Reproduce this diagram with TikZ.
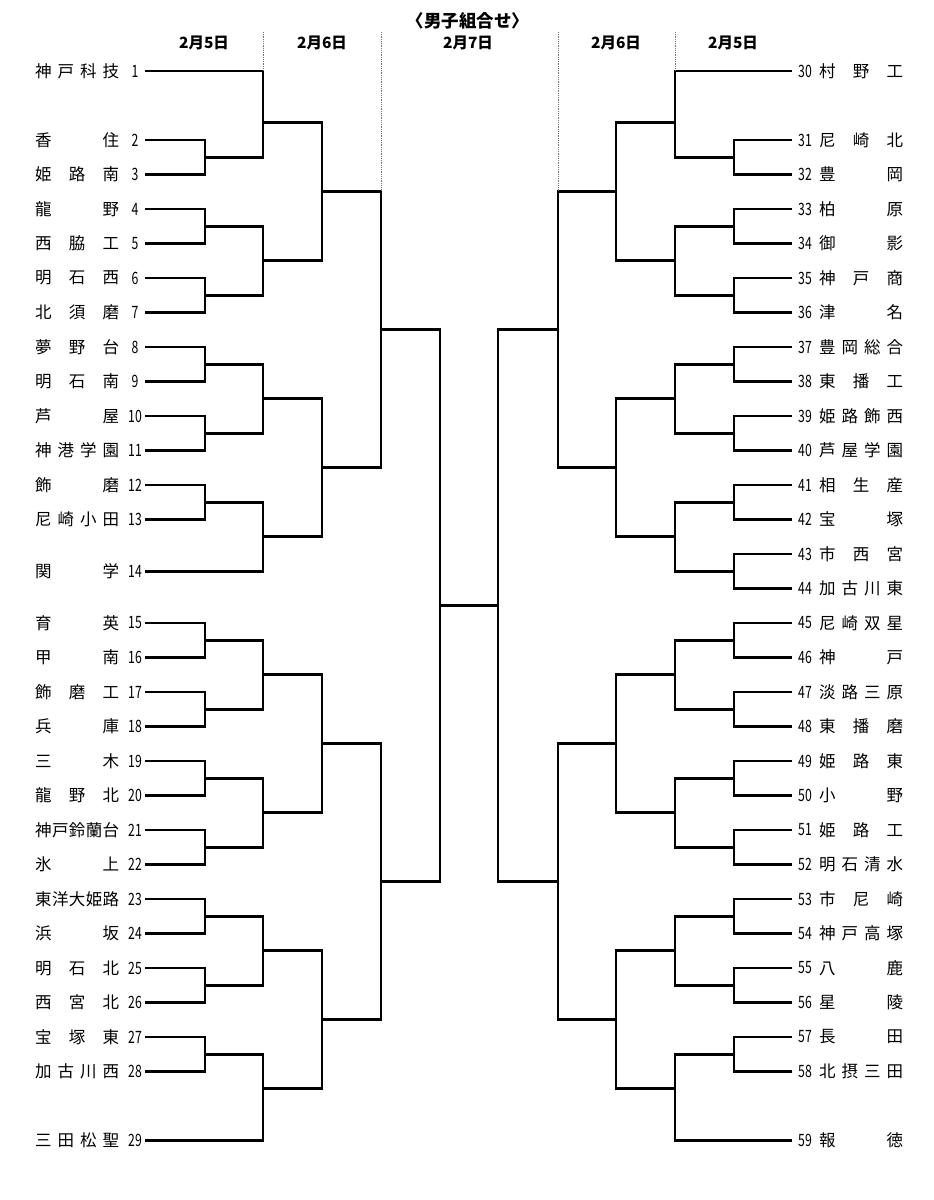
\documentclass[tikz,border=0pt]{standalone}
\usepackage{fontspec}
\setmainfont{Noto Sans CJK JP}
\newfontfamily\numf[FakeStretch=0.72]{Noto Sans CJK JP}
\usetikzlibrary{calc}
\def\jn#1{\makebox[84pt][s]{\jnA#1\jnEnd}}
\def\jnA#1#2\jnEnd{#1\ifx\relax#2\relax\else\hfill\jnA#2\jnEnd\fi}
\newcommand\ry[1]{71+34.5*(#1)}
% match: name, x, xnext, top row, bottom row, out row
\newcommand\mt[6]{%
  \coordinate (#1-t) at (#2,{\ry{#4}});
  \coordinate (#1-b) at (#2,{\ry{#5}});
  \coordinate (#1-o) at (#2,{\ry{#6}});
  \coordinate (#1-n) at (#3,{\ry{#6}});
  \draw[brv] (#1-t) -- (#1-b);
  \draw[brh] (#1-o) -- (#1-n);}
% left team: number, row, name, x end
\newcommand\tl[4]{%
  \node[tname,anchor=west] (tL#1) at (35,{\ry{#2}}) {\jn{#3}};
  \node[tnum] (nL#1) at (135,{\ry{#2}}) {#1};
  \coordinate (aL#1) at (145,{\ry{#2}});
  \coordinate (eL#1) at (#4,{\ry{#2}});
  \draw[brh] (aL#1) -- (eL#1);}
% right team
\newcommand\tr[4]{%
  \node[tname,anchor=west] (tR#1) at (819,{\ry{#2}}) {\jn{#3}};
  \node[tnum] (nR#1) at (805,{\ry{#2}}) {#1};
  \coordinate (aR#1) at (792,{\ry{#2}});
  \coordinate (eR#1) at (#4,{\ry{#2}});
  \draw[brh] (aR#1) -- (eR#1);}
\begin{document}
\begin{tikzpicture}[x=1pt,y=-1pt,
  brh/.style={line width=2.7pt, line cap=butt, black},
  brv/.style={line width=2.7pt, line cap=rect, black},
  dotln/.style={black!55, densely dotted, line width=0.8pt},
  tname/.style={font=\fontsize{16.5}{18}\selectfont, inner sep=0pt},
  tnum/.style={font=\numf\fontsize{17}{19}\selectfont, inner sep=0pt},
  day/.style={font=\bfseries\fontsize{15.5}{17}\selectfont, inner sep=0pt},
  ttl/.style={font=\bfseries\fontsize{17.5}{19}\selectfont, inner sep=0pt}]
\fill[white] (0,0) rectangle (934,1200);
\useasboundingbox (0,0) rectangle (934,1200);

% titles
\node[ttl] (title) at (468,21) {〈男子組合せ〉};
\node[day] (dL5) at (204,43) {2月5日};
\node[day] (dL6) at (322,43) {2月6日};
\node[day] (d7) at (468,43) {2月7日};
\node[day] (dR6) at (616,43) {2月6日};
\node[day] (dR5) at (733,43) {2月5日};

% left teams
\tl{1}{0}{神戸科技}{263}
\tl{2}{2}{香住}{205}
\tl{3}{3}{姫路南}{205}
\tl{4}{4}{龍野}{205}
\tl{5}{5}{西脇工}{205}
\tl{6}{6}{明石西}{205}
\tl{7}{7}{北須磨}{205}
\tl{8}{8}{夢野台}{205}
\tl{9}{9}{明石南}{205}
\tl{10}{10}{芦屋}{205}
\tl{11}{11}{神港学園}{205}
\tl{12}{12}{飾磨}{205}
\tl{13}{13}{尼崎小田}{205}
\tl{14}{14.5}{関学}{263}
\tl{15}{16}{育英}{205}
\tl{16}{17}{甲南}{205}
\tl{17}{18}{飾磨工}{205}
\tl{18}{19}{兵庫}{205}
\tl{19}{20}{三木}{205}
\tl{20}{21}{龍野北}{205}
\tl{21}{22}{神戸鈴蘭台}{205}
\tl{22}{23}{氷上}{205}
\tl{23}{24}{東洋大姫路}{205}
\tl{24}{25}{浜坂}{205}
\tl{25}{26}{明石北}{205}
\tl{26}{27}{西宮北}{205}
\tl{27}{28}{宝塚東}{205}
\tl{28}{29}{加古川西}{205}
\tl{29}{31}{三田松聖}{263}

% right teams
\tr{30}{0}{村野工}{675}
\tr{31}{2}{尼崎北}{734}
\tr{32}{3}{豊岡}{734}
\tr{33}{4}{柏原}{734}
\tr{34}{5}{御影}{734}
\tr{35}{6}{神戸商}{734}
\tr{36}{7}{津名}{734}
\tr{37}{8}{豊岡総合}{734}
\tr{38}{9}{東播工}{734}
\tr{39}{10}{姫路飾西}{734}
\tr{40}{11}{芦屋学園}{734}
\tr{41}{12}{相生産}{734}
\tr{42}{13}{宝塚}{734}
\tr{43}{14}{市西宮}{734}
\tr{44}{15}{加古川東}{734}
\tr{45}{16}{尼崎双星}{734}
\tr{46}{17}{神戸}{734}
\tr{47}{18}{淡路三原}{734}
\tr{48}{19}{東播磨}{734}
\tr{49}{20}{姫路東}{734}
\tr{50}{21}{小野}{734}
\tr{51}{22}{姫路工}{734}
\tr{52}{23}{明石清水}{734}
\tr{53}{24}{市尼崎}{734}
\tr{54}{25}{神戸高塚}{734}
\tr{55}{26}{八鹿}{734}
\tr{56}{27}{星陵}{734}
\tr{57}{28}{長田}{734}
\tr{58}{29}{北摂三田}{734}
\tr{59}{31}{報徳}{675}

% left round 1
\foreach \r [count=\k] in {2,4,6,8,10,12,16,18,20,22,24,26,28}
  {\mt{L1-\k}{205}{263}{\r}{\r+1}{\r+0.5}}
% right round 1
\foreach \r [count=\k] in {2,4,6,8,10,12,14,16,18,20,22,24,26,28}
  {\mt{R1-\k}{734}{675}{\r}{\r+1}{\r+0.5}}

% left rounds
\mt{L2a}{263}{322}{0}{2.5}{1.5}
\mt{L2b}{263}{322}{4.5}{6.5}{5.5}
\mt{L2c}{263}{322}{8.5}{10.5}{9.5}
\mt{L2d}{263}{322}{12.5}{14.5}{13.5}
\mt{L2e}{263}{322}{16.5}{18.5}{17.5}
\mt{L2f}{263}{322}{20.5}{22.5}{21.5}
\mt{L2g}{263}{322}{24.5}{26.5}{25.5}
\mt{L2h}{263}{322}{28.5}{31}{29.5}
\mt{L3a}{322}{381}{1.5}{5.5}{3.5}
\mt{L3b}{322}{381}{9.5}{13.5}{11.5}
\mt{L3c}{322}{381}{17.5}{21.5}{19.5}
\mt{L3d}{322}{381}{25.5}{29.5}{27.5}
\mt{L4a}{381}{440}{3.5}{11.5}{7.5}
\mt{L4b}{381}{440}{19.5}{27.5}{23.5}
\mt{LF}{440}{498}{7.5}{23.5}{15.5}

% right rounds
\mt{R2a}{675}{616}{0}{2.5}{1.5}
\mt{R2b}{675}{616}{4.5}{6.5}{5.5}
\mt{R2c}{675}{616}{8.5}{10.5}{9.5}
\mt{R2d}{675}{616}{12.5}{14.5}{13.5}
\mt{R2e}{675}{616}{16.5}{18.5}{17.5}
\mt{R2f}{675}{616}{20.5}{22.5}{21.5}
\mt{R2g}{675}{616}{24.5}{26.5}{25.5}
\mt{R2h}{675}{616}{28.5}{31}{29.5}
\mt{R3a}{616}{558}{1.5}{5.5}{3.5}
\mt{R3b}{616}{558}{9.5}{13.5}{11.5}
\mt{R3c}{616}{558}{17.5}{21.5}{19.5}
\mt{R3d}{616}{558}{25.5}{29.5}{27.5}
\mt{R4a}{558}{498}{3.5}{11.5}{7.5}
\mt{R4b}{558}{498}{19.5}{27.5}{23.5}
\coordinate (RF-t) at (498,{\ry{7.5}});
\coordinate (RF-b) at (498,{\ry{23.5}});
\draw[brv] (RF-t) -- (RF-b);

% dotted day separators
\coordinate (s1) at (263,32);
\coordinate (s2) at (381,32);
\coordinate (s3) at (558,32);
\coordinate (s4) at (675,32);
\draw[dotln] (s1) -- (L2a-t);
\draw[dotln] (s2) -- (L4a-t);
\draw[dotln] (s3) -- (R4a-t);
\draw[dotln] (s4) -- (R2a-t);
\end{tikzpicture}
\end{document}
